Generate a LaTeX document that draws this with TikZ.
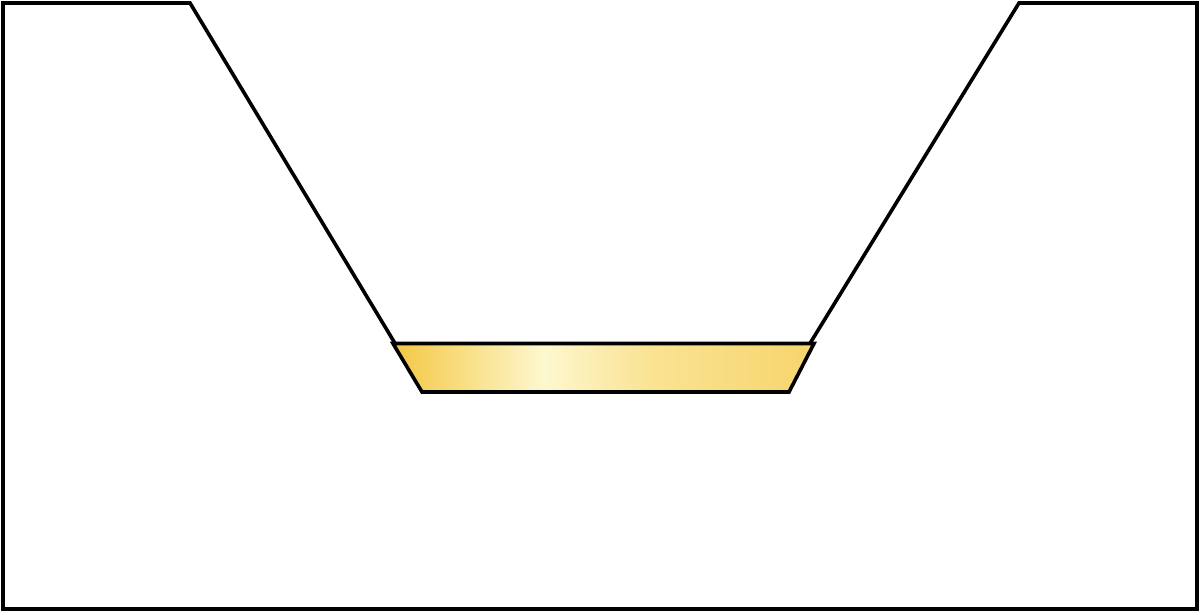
\documentclass[tikz,border=0pt]{standalone}
\usetikzlibrary{shadings}
\definecolor{gL}{HTML}{F4C743}
\definecolor{gM}{HTML}{FDF8CF}
\definecolor{gQ}{HTML}{FAE394}
\definecolor{gR}{HTML}{F7D56C}
\pgfdeclarehorizontalshading{goldband}{100bp}{color(0bp)=(gL); color(25bp)=(gL); color(43bp)=(gM); color(55bp)=(gQ); color(75bp)=(gR); color(100bp)=(gR)}
\tikzset{
  outline/.style={line width=3.6pt, line join=miter, draw=black},
  band/.style={outline, shading=goldband}
}
\begin{document}
\begin{tikzpicture}[x=1pt,y=-1pt]
\useasboundingbox (0,0) rectangle (1201,614);
\coordinate (ls) at (396,345);
\coordinate (lt) at (190,3);
\coordinate (tl) at (3,3);
\coordinate (bl) at (3,609);
\coordinate (br) at (1197,609);
\coordinate (tr) at (1197,3);
\coordinate (rt) at (1019,3);
\coordinate (rs) at (809,345);
\draw[outline] (ls) -- (lt) -- (tl) -- (bl) -- (br) -- (tr) -- (rt) -- (rs);
\coordinate (a) at (393,343.5);
\coordinate (b) at (814,343.5);
\coordinate (c) at (789,392);
\coordinate (d) at (422,392);
\path[band] (a) -- (b) -- (c) -- (d) -- cycle;
\end{tikzpicture}
\end{document}
